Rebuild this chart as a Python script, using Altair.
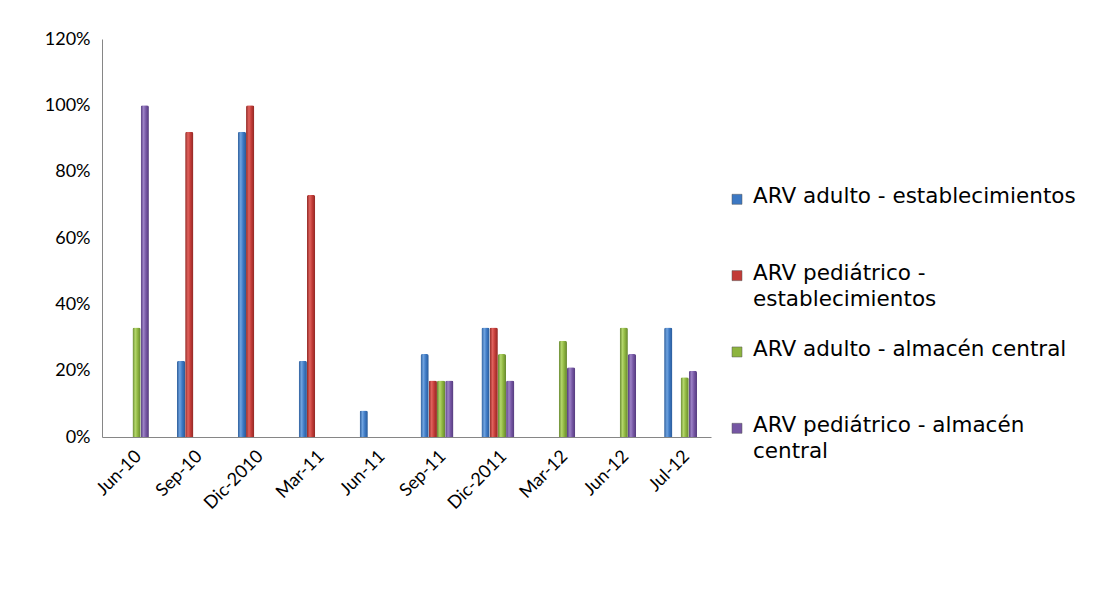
import altair as alt
import pandas as pd

categories = ["Jun-10", "Sep-10", "Dic-2010", "Mar-11", "Jun-11",
              "Sep-11", "Dic-2011", "Mar-12", "Jun-12", "Jul-12"]
series = ["ARV adulto - establecimientos",
          "ARV pediátrico - establecimientos",
          "ARV adulto - almacén central",
          "ARV pediátrico - almacén central"]
legend_labels = ["ARV adulto - establecimientos",
                 "ARV pediátrico -\nestablecimientos",
                 "ARV adulto - almacén central",
                 "ARV pediátrico - almacén\ncentral"]
adulto_estab = [0, 0.23, 0.92, 0.23, 0.08, 0.25, 0.33, 0, 0, 0.33]
pediatrico_estab = [0, 0.92, 1.00, 0.73, 0, 0.17, 0.33, 0, 0, 0]
adulto_almacen = [0.33, 0, 0, 0, 0, 0.17, 0.25, 0.29, 0.33, 0.18]
pediatrico_almacen = [1.00, 0, 0, 0, 0, 0.17, 0.17, 0.21, 0.25, 0.20]

base_colors = ["#3C78C3", "#C23B37", "#8DB43E", "#7556A3"]
light_colors = ["#6FA3E0", "#E0625D", "#B3D66A", "#9C82C6"]
dark_colors = ["#2A5A97", "#8F2824", "#648530", "#533A7C"]

FONT = "Lato"

values = [adulto_estab, pediatrico_estab, adulto_almacen, pediatrico_almacen]
rows = []
for s, vals in zip(series, values):
    for c, v in zip(categories, vals):
        if v > 0:
            rows.append({"cat": c, "serie": s, "valor": v})
df = pd.DataFrame(rows)

x_enc = alt.X("cat:N", sort=categories,
              scale=alt.Scale(domain=categories, paddingInner=0.46, paddingOuter=0.23),
              axis=alt.Axis(title=None, labelAngle=-45, labelFontSize=18, labelFont=FONT,
                            labelColor="#000000", ticks=False, domainColor="#868686",
                            labelPadding=10))
y_enc = alt.Y("valor:Q",
              scale=alt.Scale(domain=[0, 1.2], nice=False),
              axis=alt.Axis(title=None, format=".0%", values=[0, 0.2, 0.4, 0.6, 0.8, 1.0, 1.2],
                            grid=False, ticks=False, labelFontSize=18, labelFont=FONT,
                            labelColor="#000000", domainColor="#868686", labelPadding=12))
xo_enc = alt.XOffset("serie:N", scale=alt.Scale(domain=series, paddingInner=0, paddingOuter=0))

layers = []
for s, b, l, d in zip(series, base_colors, light_colors, dark_colors):
    grad = alt.Gradient(gradient="linear", x1=0, x2=1, y1=0, y2=0,
                        stops=[alt.GradientStop(color=d, offset=0),
                               alt.GradientStop(color=l, offset=0.35),
                               alt.GradientStop(color=b, offset=0.65),
                               alt.GradientStop(color=d, offset=1)])
    layers.append(
        alt.Chart(df).transform_filter(alt.datum.serie == s)
        .mark_bar(color=grad, cornerRadiusTopLeft=2, cornerRadiusTopRight=2)
        .encode(x=x_enc, y=y_enc, xOffset=xo_enc)
    )

bars = alt.layer(*layers).properties(width=609, height=398)

leg_df = pd.DataFrame({"serie": series, "label": legend_labels,
                       "color": base_colors, "idx": list(range(len(series)))})
y_leg = alt.Y("idx:Q", scale=alt.Scale(domain=[-2.10, 3.114], reverse=True, nice=False,
                                       zero=False), axis=None)
swatch = alt.Chart(leg_df).mark_square(size=100, opacity=1, stroke="#555555", strokeWidth=0.5).encode(
    x=alt.value(6), y=y_leg, color=alt.Color("color:N", scale=None))
text = alt.Chart(leg_df).mark_text(align="left", baseline="top", dy=-13, lineBreak="\n",
                                   fontSize=21.5, font="DejaVu Sans", color="#000000",
                                   lineHeight=26).encode(
    x=alt.value(22), y=y_leg, text="label:N")
legend = alt.layer(swatch, text).properties(width=350, height=398)

chart = alt.hconcat(bars, legend, spacing=20).properties(
    padding={"left": 36, "top": 22, "right": 0, "bottom": 0}
).configure(background="white").configure_view(strokeWidth=0)

chart.save("out.html", embed_options={"renderer": "svg", "actions": False})
